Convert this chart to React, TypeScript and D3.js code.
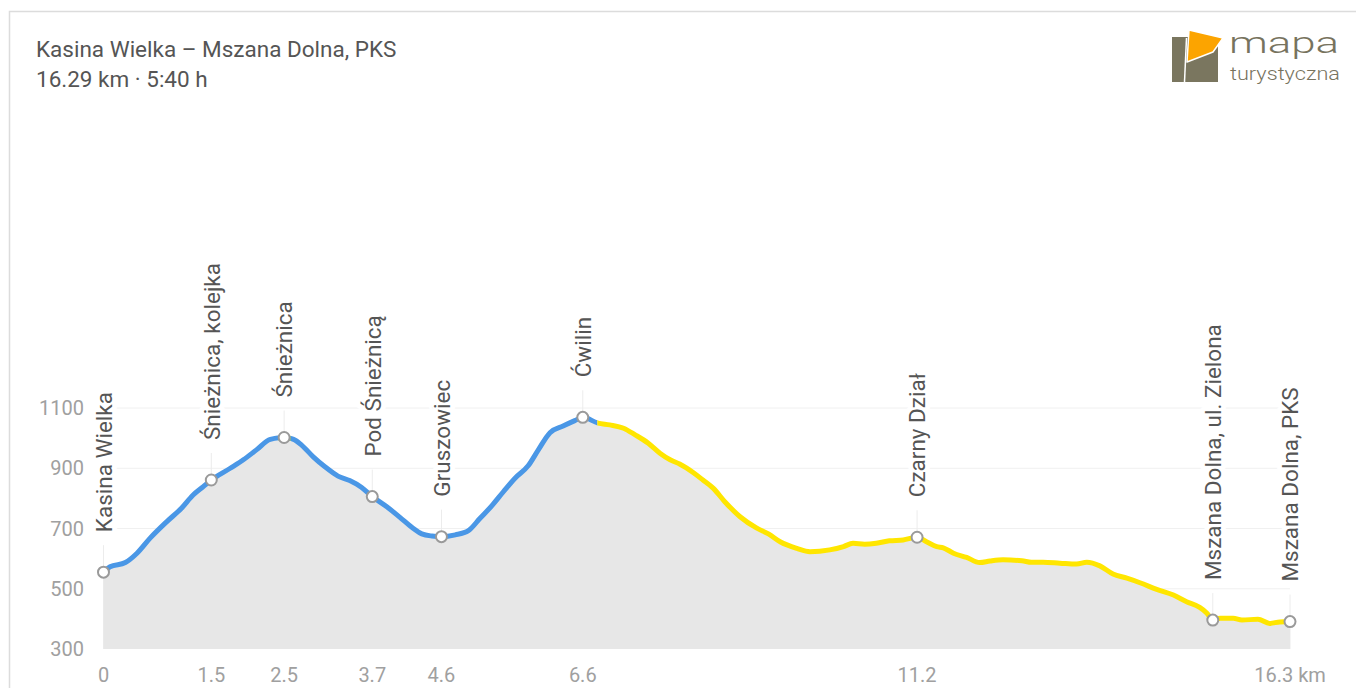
import React from 'react';
import * as d3 from 'd3';

// Profile data (km along the route, elevation in m)
const KM = [0,0.09,0.30,0.46,0.64,0.87,1.07,1.23,1.37,1.48,
  1.74,1.92,2.10,2.29,2.48,2.61,2.72,2.88,3.04,3.22,
  3.38,3.54,3.69,3.89,4.07,4.25,4.37,4.51,4.64,4.83,
  5.01,5.17,5.33,5.49,5.65,5.83,5.97,6.13,6.31,6.47,
  6.58,6.79,6.95,7.14,7.30,7.48,7.64,7.78,7.91,8.10,
  8.23,8.37,8.53,8.74,8.97,9.13,9.29,9.52,9.70,9.97,
  10.16,10.29,10.45,10.61,10.79,10.98,11.17,11.30,11.44,11.53,
  11.67,11.85,12.03,12.17,12.35,12.61,12.74,12.90,13.13,13.36,
  13.50,13.68,13.86,14.05,14.23,14.46,14.69,14.87,15.05,15.15,
  15.23,15.33,15.51,15.63,15.85,16.01,16.15,16.29];
const ELEV = [555,573,587,618,668,723,767,811,839,861,
  900,928,961,996,1002,996,977,938,905,874,
  859,837,806,772,737,701,682,675,673,679,
  693,734,775,822,867,908,961,1018,1040,1058,
  1069,1050,1044,1033,1011,983,950,928,914,885,
  861,834,789,739,701,682,656,634,623,629,
  640,651,648,651,659,662,671,656,640,636,
  618,604,587,592,596,593,588,588,585,582,
  588,576,549,535,520,498,479,457,438,419,
  396,402,402,396,399,385,390,391];

// Waypoints
const WP_NAMES = ['Kasina Wielka','Śnieżnica, kolejka','Śnieżnica','Pod Śnieżnicą','Gruszowiec','Ćwilin','Czarny Dział','Mszana Dolna, ul. Zielona','Mszana Dolna, PKS'];
const WP_KM = [0,1.48,2.48,3.69,4.64,6.58,11.17,15.23,16.29];
const WP_ELEV = [555,861,1002,806,673,1069,671,396,391];

// X tick labels (at waypoints)
const XTICK_KM = [0,1.48,2.48,3.69,4.64,6.58,11.17,16.29];
const XTICK_LABELS = ['0','1.5','2.5','3.7','4.6','6.6','11.2','16.3 km'];

// Y ticks
const YTICKS = [300,500,700,900,1100];

// Trail colour segments
const SEG_FROM = [0,2.40,2.57,6.78];
const SEG_TO = [2.40,2.57,6.78,16.29];
const SEG_COLOR = ['#4a97e6','#62b239','#4a97e6','#ffe600'];

const TITLE = 'Kasina Wielka – Mszana Dolna, PKS';
const SUBTITLE = '16.29 km · 5:40 h';

export default function App() {
  const W = 1356, H = 688;
  const x = d3.scaleLinear().domain([0, 16.29]).range([103.5, 1290]);
  const y = d3.scaleLinear().domain([300, 1100]).range([649, 408]);
  const pts: [number, number][] = KM.map((k, i) => [k, ELEV[i]]);
  const line = d3.line<[number, number]>().x(d => x(d[0])).y(d => y(d[1])).curve(d3.curveMonotoneX);
  const area = d3.area<[number, number]>().x(d => x(d[0])).y0(y(300)).y1(d => y(d[1])).curve(d3.curveMonotoneX);
  const font = 'Roboto, "Noto Sans", sans-serif';
  const pathD = line(pts) || '';

  return (
    <svg width={W} height={H} style={{ position: 'absolute', left: 0, top: 0, background: '#fff' }} fontFamily={font}>
      <defs>
        {SEG_FROM.map((f, i) => (
          <clipPath id={`seg${i}`} key={i}>
            <rect x={x(f)} y={0} width={x(SEG_TO[i]) - x(f)} height={H} />
          </clipPath>
        ))}
      </defs>
      <rect x={9.5} y={11.5} width={1400} height={800} fill="#fff" stroke="#dcdcdc" strokeWidth={1.5} />

      <text x={36} y={57} fontSize={22.5} fill="#555">{TITLE}</text>
      <text x={36} y={87} fontSize={22.5} fill="#555">{SUBTITLE}</text>

      {/* logo */}
      <g>
        <rect x={1172} y={37} width={46} height={45} fill="#7a765f" />
        <polygon points="1189,30 1223,38 1213,52 1187,62" fill="#fca400" stroke="#fff" strokeWidth={1.5} strokeLinejoin="round" />
        <line x1={1186.5} y1={38} x2={1184.5} y2={82} stroke="#fff" strokeWidth={1.5} />
        <text x={1229} y={53} fontSize={30} fontWeight={300} fill="#77735e" textLength={110} lengthAdjust="spacingAndGlyphs">mapa</text>
        <text x={1230} y={80} fontSize={17.5} fontWeight={300} fill="#77735e" textLength={110} lengthAdjust="spacingAndGlyphs">turystyczna</text>
      </g>

      {/* horizontal grid */}
      {YTICKS.filter(t => t > 300).map(t => (
        <line key={t} x1={x(0)} x2={x(16.29)} y1={y(t)} y2={y(t)} stroke="#f0f0f0" strokeWidth={1} />
      ))}
      {/* vertical grid */}
      {WP_KM.map((k, i) => (
        <line key={i} x1={x(k)} x2={x(k)} y1={y(WP_ELEV[i]) - 27} y2={y(300)} stroke="#ececec" strokeWidth={1} />
      ))}

      <path d={area(pts) || ''} fill="#e7e7e7" />

      {/* y tick labels */}
      {YTICKS.map(t => (
        <text key={t} x={84} y={y(t)} dy="0.36em" textAnchor="end" fontSize={20} fill="#a0a0a0">{t}</text>
      ))}
      {/* x tick labels */}
      {XTICK_KM.map((k, i) => (
        <text key={i} x={x(k)} y={682} textAnchor="middle" fontSize={20} fill="#a0a0a0">{XTICK_LABELS[i]}</text>
      ))}

      {/* waypoint labels */}
      {WP_NAMES.map((n, i) => {
        const px = x(WP_KM[i]);
        const py = y(WP_ELEV[i]) - 40;
        return (
          <text key={i} transform={`translate(${px},${py}) rotate(-90)`} dy="0.37em" textAnchor="start" fontSize={22.5} fill="#555"
            stroke="#fff" strokeWidth={10} strokeLinejoin="round" style={{ paintOrder: 'stroke' }}>{n}</text>
        );
      })}

      {/* profile line by trail colour */}
      {SEG_FROM.map((f, i) => (
        <path key={i} d={pathD} fill="none" stroke={SEG_COLOR[i]} strokeWidth={5} strokeLinejoin="round" clipPath={`url(#seg${i})`} />
      ))}

      {/* waypoint markers */}
      {WP_KM.map((k, i) => (
        <circle key={i} cx={x(k)} cy={y(WP_ELEV[i])} r={5.5} fill="#fff" stroke="#9a9a9a" strokeWidth={2} />
      ))}
    </svg>
  );
}
